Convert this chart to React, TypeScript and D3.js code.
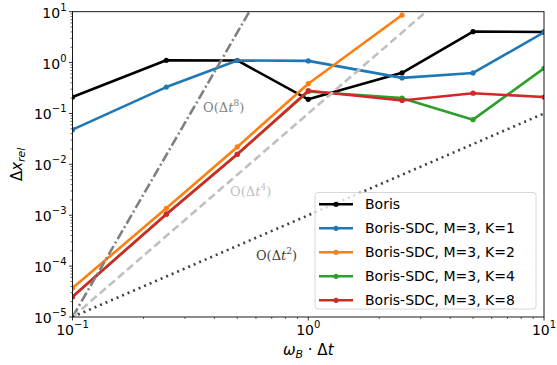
import React from 'react';
import * as d3 from 'd3';

// time step values (omega_B * dt)
const dt = [0.1, 0.25, 0.5, 1.0, 2.5, 5.0, 10.0];

// relative position error per method
const boris = [0.21, 1.11, 1.1, 0.19, 0.63, 4.05, 4.0];
const sdcK1 = [0.048, 0.33, 1.1, 1.08, 0.5, 0.625, 3.94];
const sdcK2 = [3.7e-5, 1.37e-3, 0.022, 0.385, 8.6];
const sdcK4 = [2.5e-5, 1.05e-3, 0.0158, 0.27, 0.2, 0.0755, 0.77];
const sdcK8 = [2.5e-5, 1.05e-3, 0.0158, 0.28, 0.18, 0.25, 0.21];

const seriesNames = [
  'Boris',
  'Boris-SDC, M=3, K=1',
  'Boris-SDC, M=3, K=2',
  'Boris-SDC, M=3, K=4',
  'Boris-SDC, M=3, K=8',
];
const seriesValues = [boris, sdcK1, sdcK2, sdcK4, sdcK8];
const seriesColors = ['#000000', '#1f77b4', '#ff7f0e', '#2ca02c', '#d62728'];

// reference slopes, anchored at (0.1, 1e-5)
const refOrders = [8, 4, 2];
const refColors = ['#808080', '#c0c0c0', '#404040'];
const refDash = ['10,3,2,3', '8,4', '2,4'];
const refLabelAt = [0.358, 0.466, 0.6]; // dt where label starts
const refLabelY = [112, 196, 260];

const xTicks = [-1, 0, 1];
const yTicks = [1, 0, -1, -2, -3, -4, -5];

const W = 557;
const H = 365;
const m = { left: 72.5, right: 544, top: 11.7, bottom: 317 };

const font = 'DejaVu Sans, sans-serif';

const App = () => {
  const x = d3.scaleLog().domain([0.1, 10]).range([m.left, m.right]);
  const y = d3.scaleLog().domain([1e-5, 10]).range([m.bottom, m.top]);

  const line = d3
    .line<number>()
    .x((_, i) => x(dt[i]))
    .y((d) => y(d));

  const refLine = (p: number) =>
    d3
      .line<number>()
      .x((d) => x(d))
      .y((d) => y(1e-5 * Math.pow(d / 0.1, p)))([0.1, 10]);

  // minor ticks
  const xMinor: number[] = [];
  for (const e of [-1, 0]) for (let k = 2; k <= 9; k++) xMinor.push(k * Math.pow(10, e));
  const yMinor: number[] = [];
  for (let e = -5; e < 1; e++) for (let k = 2; k <= 9; k++) yMinor.push(k * Math.pow(10, e));

  const sup = (e: number) => (e < 0 ? '\u2212' + Math.abs(e) : String(e));

  return (
    <svg width={W} height={H} style={{ position: 'absolute', left: 0, top: 0, background: '#fff' }}>
      <defs>
        <clipPath id="plot-clip">
          <rect x={m.left} y={m.top} width={m.right - m.left} height={m.bottom - m.top} />
        </clipPath>
      </defs>

      <g clipPath="url(#plot-clip)">
        {/* data lines */}
        {seriesValues.map((vals, s) => (
          <g key={s}>
            <path d={line(vals) || ''} fill="none" stroke={seriesColors[s]} strokeWidth={2.6} strokeLinejoin="round" />
            {vals.map((v, i) => (
              <circle key={i} cx={x(dt[i])} cy={y(v)} r={2.6} fill={seriesColors[s]} />
            ))}
          </g>
        ))}
        {/* reference slopes */}
        {refOrders.map((p, i) => (
          <path key={p} d={refLine(p) || ''} fill="none" stroke={refColors[i]} strokeWidth={2.6} strokeDasharray={refDash[i]} />
        ))}
      </g>

      {/* slope labels */}
      {refOrders.map((p, i) => (
        <text
          key={p}
          x={x(refLabelAt[i])}
          y={refLabelY[i]}
          fill={refColors[i]}
          fontFamily="DejaVu Serif, serif"
          fontSize={13}
        >
          <tspan>O(Δ</tspan>
          <tspan fontStyle="italic">t</tspan>
          <tspan fontSize={9} dy={-6}>{p}</tspan>
          <tspan dy={6}>)</tspan>
        </text>
      ))}

      {/* frame */}
      <rect x={m.left} y={m.top} width={m.right - m.left} height={m.bottom - m.top} fill="none" stroke="#000" strokeWidth={0.9} />

      {/* x ticks */}
      {xTicks.map((e) => (
        <g key={e}>
          <line x1={x(Math.pow(10, e))} x2={x(Math.pow(10, e))} y1={m.bottom} y2={m.bottom + 3.5} stroke="#000" strokeWidth={0.8} />
          <text x={x(Math.pow(10, e))} y={m.bottom + 18} fontFamily={font} fontSize={14} textAnchor="middle">
            10<tspan fontSize={10} dy={-7}>{sup(e)}</tspan>
          </text>
        </g>
      ))}
      {xMinor.map((v) => (
        <line key={v} x1={x(v)} x2={x(v)} y1={m.bottom} y2={m.bottom + 2} stroke="#000" strokeWidth={0.6} />
      ))}

      {/* y ticks */}
      {yTicks.map((e) => (
        <g key={e}>
          <line x1={m.left - 3.5} x2={m.left} y1={y(Math.pow(10, e))} y2={y(Math.pow(10, e))} stroke="#000" strokeWidth={0.8} />
          <text x={m.left - 6} y={y(Math.pow(10, e)) + 6} fontFamily={font} fontSize={14} textAnchor="end">
            10<tspan fontSize={10} dy={-7}>{sup(e)}</tspan>
          </text>
        </g>
      ))}
      {yMinor.map((v) => (
        <line key={v} x1={m.left - 2} x2={m.left} y1={y(v)} y2={y(v)} stroke="#000" strokeWidth={0.6} />
      ))}

      {/* axis labels */}
      <text x={(m.left + m.right) / 2} y={355} fontFamily={font} fontSize={15} textAnchor="middle">
        <tspan fontStyle="italic">ω</tspan>
        <tspan fontStyle="italic" fontSize={11} dy={3}>B</tspan>
        <tspan dy={-3}> · Δ</tspan>
        <tspan fontStyle="italic">t</tspan>
      </text>
      <text transform={`translate(22,${(m.top + m.bottom) / 2}) rotate(-90)`} fontFamily={font} fontSize={15} textAnchor="middle">
        <tspan>Δ</tspan>
        <tspan fontStyle="italic">x</tspan>
        <tspan fontStyle="italic" fontSize={11} dy={3}>rel</tspan>
      </text>

      {/* legend */}
      <g>
        <rect x={315} y={192.5} width={221} height={116.5} rx={3} fill="#fff" fillOpacity={0.8} stroke="#cccccc" strokeWidth={0.8} />
        {seriesNames.map((name, i) => {
          const cy = 204.3 + i * 24;
          return (
            <g key={name}>
              <line x1={319} x2={353} y1={cy} y2={cy} stroke={seriesColors[i]} strokeWidth={2.6} />
              <circle cx={336} cy={cy} r={2.6} fill={seriesColors[i]} />
              <text x={365} y={cy + 5} fontFamily={font} fontSize={14}>
                {name}
              </text>
            </g>
          );
        })}
      </g>
    </svg>
  );
};

export default App;
